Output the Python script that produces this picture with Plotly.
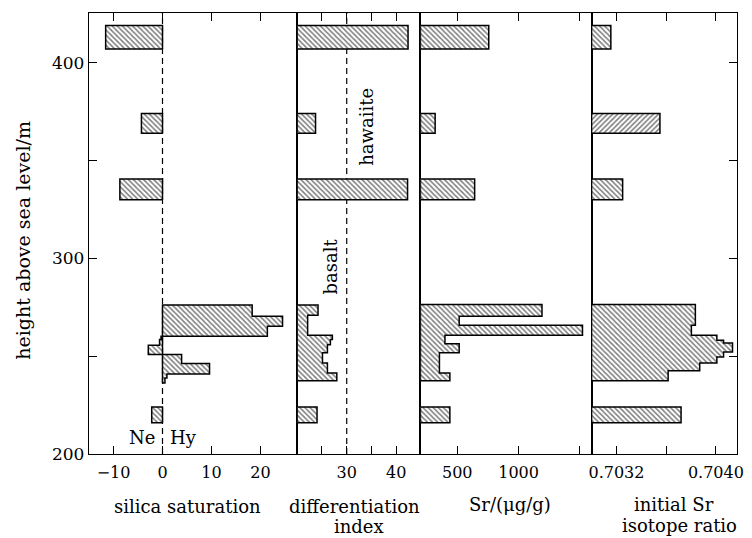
import plotly.graph_objects as go

# ---------------- data (heights in m, values per panel) ----------------
# silica saturation (Ne < 0 < Hy)
si_bottom = [216, 236.3, 238.9, 240.9, 246.2, 250.8, 255.6, 258.5, 260.2, 265.3, 270.4, 330, 364, 407]
si_top    = [224, 238.9, 240.9, 246.2, 250.8, 255.6, 258.5, 260.2, 265.3, 270.4, 276.1, 340.5, 374, 419]
si_value  = [-2.2, 0.5, 0.9, 9.6, 3.9, -2.9, -0.6, -0.3, 21.4, 24.5, 18.3, -8.7, -4.3, -11.6]

# differentiation index
di_bottom = [216, 237.5, 241.4, 246.5, 251.7, 255.9, 258.5, 260.7, 270.9, 330, 364, 407]
di_top    = [224, 241.4, 246.5, 251.7, 255.9, 258.5, 260.7, 270.9, 276.1, 340.5, 374, 419]
di_value  = [24.0, 28.0, 26.1, 25.1, 26.1, 26.7, 27.1, 22.1, 24.2, 42.3, 23.7, 42.4]

# Sr / (ug/g)
sr_bottom = [216, 237.5, 241.4, 251.7, 256.3, 260.7, 265.8, 270.4, 330, 364, 407]
sr_top    = [224, 241.4, 251.7, 256.3, 260.7, 265.8, 270.4, 276.4, 340.5, 374, 419]
sr_value  = [440, 440, 355, 516, 400, 1521, 516, 1191, 642, 320, 757]

# initial Sr isotope ratio
is_bottom = [216, 237.5, 242.6, 246.5, 249.6, 252.1, 256.7, 258.1, 260.7, 265.8, 330, 407]
is_top    = [224, 242.6, 246.5, 249.6, 252.1, 256.7, 258.1, 260.7, 265.8, 276.4, 340.5, 419]
is_value  = [0.70372, 0.703616, 0.70387, 0.704008, 0.704062, 0.704134, 0.704062, 0.704008,
             0.703803, 0.703835, 0.70325, 0.703155]
# single bar hatched the other way
is2_bottom = [364]
is2_top    = [374]
is2_value  = [0.70355]

# axes
y_range = [200, 425.4]
y_ticks = [200, 250, 300, 350, 400]
y_ticktext = ["200", "", "300", "", "400"]

si_range = [-15.0, 27.5]
si_ticks = [-10, 0, 10, 20]
si_ticktext = ["\u221210", "0", "10", "20"]

di_range = [20, 44.9]
di_ticks = [25, 30, 35, 40]
di_ticktext = ["", "30", "", "40"]

sr_range = [200, 1595]
sr_ticks = [500, 1000, 1500]
sr_ticktext = ["500", "1000", ""]

is_range = [0.70300, 0.70417]
is_ticks = [0.7032, 0.7036, 0.7040]
is_ticktext = ["0.7032", "", "0.7040"]

FONT = "DejaVu Serif, Liberation Serif, serif"


def outline(bottoms, tops, values, base):
    segs = sorted(zip(bottoms, tops, values))
    groups = []
    for s in segs:
        if groups and abs(groups[-1][-1][1] - s[0]) < 1e-6:
            groups[-1].append(s)
        else:
            groups.append([s])
    xs, ys = [], []
    for g in groups:
        xs.append(base); ys.append(g[0][0])
        for b, t, v in g:
            xs += [v, v]; ys += [b, t]
        xs.append(base); ys.append(g[-1][1])
        xs.append(base); ys.append(g[0][0])
        xs.append(None); ys.append(None)
    return xs, ys


def hatch_trace(bottoms, tops, values, base, xa, ya, shape="\\"):
    xs, ys = outline(bottoms, tops, values, base)
    return go.Scatter(
        x=xs, y=ys, mode="lines", fill="toself", xaxis=xa, yaxis=ya,
        line=dict(color="black", width=1.5),
        fillcolor="white",
        fillpattern=dict(shape=shape, size=3.6, solidity=0.45, fgcolor="black", bgcolor="white"),
        hoverinfo="skip", showlegend=False,
    )


fig = go.Figure()
fig.add_trace(hatch_trace(si_bottom, si_top, si_value, 0, "x", "y"))
fig.add_trace(hatch_trace(di_bottom, di_top, di_value, di_range[0], "x2", "y2"))
fig.add_trace(hatch_trace(sr_bottom, sr_top, sr_value, sr_range[0], "x3", "y3"))
fig.add_trace(hatch_trace(is_bottom, is_top, is_value, is_range[0], "x4", "y4"))
fig.add_trace(hatch_trace(is2_bottom, is2_top, is2_value, is_range[0], "x4", "y4", shape="/"))

# dashed reference lines
for xa, ya, xv in (("x", "y", 0), ("x2", "y2", 30)):
    fig.add_shape(type="line", xref=xa, yref=f"{ya} domain",
                  x0=xv, x1=xv, y0=0, y1=1, layer="below",
                  line=dict(color="black", width=1.2, dash="6px,4px"))

# panel boundaries (pixels -> paper)
L, R = 89, 744
W = R - L
bounds = [89, 299.5, 424, 597, 744]
doms = [[(bounds[i] - L) / W, (bounds[i + 1] - L) / W] for i in range(4)]

axis_common = dict(showline=True, linecolor="black", linewidth=1.4, mirror="ticks",
                   ticks="inside", ticklen=8, tickwidth=1.2, tickcolor="black",
                   showgrid=False, zeroline=False, ticklabelstandoff=4,
                   tickfont=dict(family=FONT, size=16, color="black"))

xspecs = [(si_range, si_ticks, si_ticktext), (di_range, di_ticks, di_ticktext),
          (sr_range, sr_ticks, sr_ticktext), (is_range, is_ticks, is_ticktext)]
layout = {}
for i, (rng, tv, tt) in enumerate(xspecs):
    key = "xaxis" if i == 0 else f"xaxis{i + 1}"
    layout[key] = dict(axis_common, domain=doms[i], range=rng, tickvals=tv, ticktext=tt,
                       anchor="y" if i == 0 else f"y{i + 1}")
for i in range(4):
    key = "yaxis" if i == 0 else f"yaxis{i + 1}"
    d = dict(showline=True, linecolor="black", linewidth=1.4, mirror=True, showgrid=False,
             zeroline=False, range=y_range, anchor="x" if i == 0 else f"x{i + 1}",
             tickfont=dict(family=FONT, size=17, color="black"))
    if i == 0:
        d.update(ticks="inside", ticklen=8, tickwidth=1.2, tickcolor="black",
                 tickvals=y_ticks, ticktext=y_ticktext)
    elif i == 3:
        d.update(side="right", ticks="inside", ticklen=8, tickwidth=1.2, tickcolor="black",
                 tickvals=y_ticks, showticklabels=False, matches="y")
    else:
        d.update(ticks="", showticklabels=False, matches="y")
    layout[key] = d


def px_x(p):
    return (p - L) / W


def px_y(p):
    return (454 - p) / 441


ann = []
tfont = dict(family=FONT, size=18, color="black")
common = dict(xref="paper", yref="paper", showarrow=False, xanchor="center", yanchor="middle")
ann.append(dict(common, text="height above sea level/m", x=px_x(22), y=px_y(240), textangle=-90,
                font=dict(family=FONT, size=19, color="black")))
ann.append(dict(common, text="silica saturation", x=px_x(189), y=px_y(506), font=tfont))
ann.append(dict(common, text="differentiation", x=px_x(357), y=px_y(506), font=tfont))
ann.append(dict(common, text="index", x=px_x(362), y=px_y(526), font=tfont))
ann.append(dict(common, text="Sr/(\u03bcg/g)", x=px_x(515), y=px_y(505), font=tfont))
ann.append(dict(common, text="initial Sr", x=px_x(680), y=px_y(504), font=tfont))
ann.append(dict(common, text="isotope ratio", x=px_x(686), y=px_y(525), font=tfont))
# in-panel labels
ann.append(dict(text="Ne", xref="x", yref="y", x=-1.2, y=208.5, xanchor="right",
                yanchor="middle", showarrow=False, font=tfont))
ann.append(dict(text="Hy", xref="x", yref="y", x=1.2, y=208.5, xanchor="left",
                yanchor="middle", showarrow=False, font=tfont))
ann.append(dict(text="basalt", xref="x2", yref="y2", x=26.7, y=296, textangle=-90,
                xanchor="center", yanchor="middle", showarrow=False, font=tfont))
ann.append(dict(text="hawaiite", xref="x2", yref="y2", x=34, y=367, textangle=-90,
                xanchor="center", yanchor="middle", showarrow=False, font=tfont))

fig.update_layout(
    width=752, height=538,
    margin=dict(l=89, r=8, t=13, b=84),
    paper_bgcolor="white", plot_bgcolor="white",
    annotations=ann, showlegend=False,
    **layout,
)

fig.write_html("out.html")
